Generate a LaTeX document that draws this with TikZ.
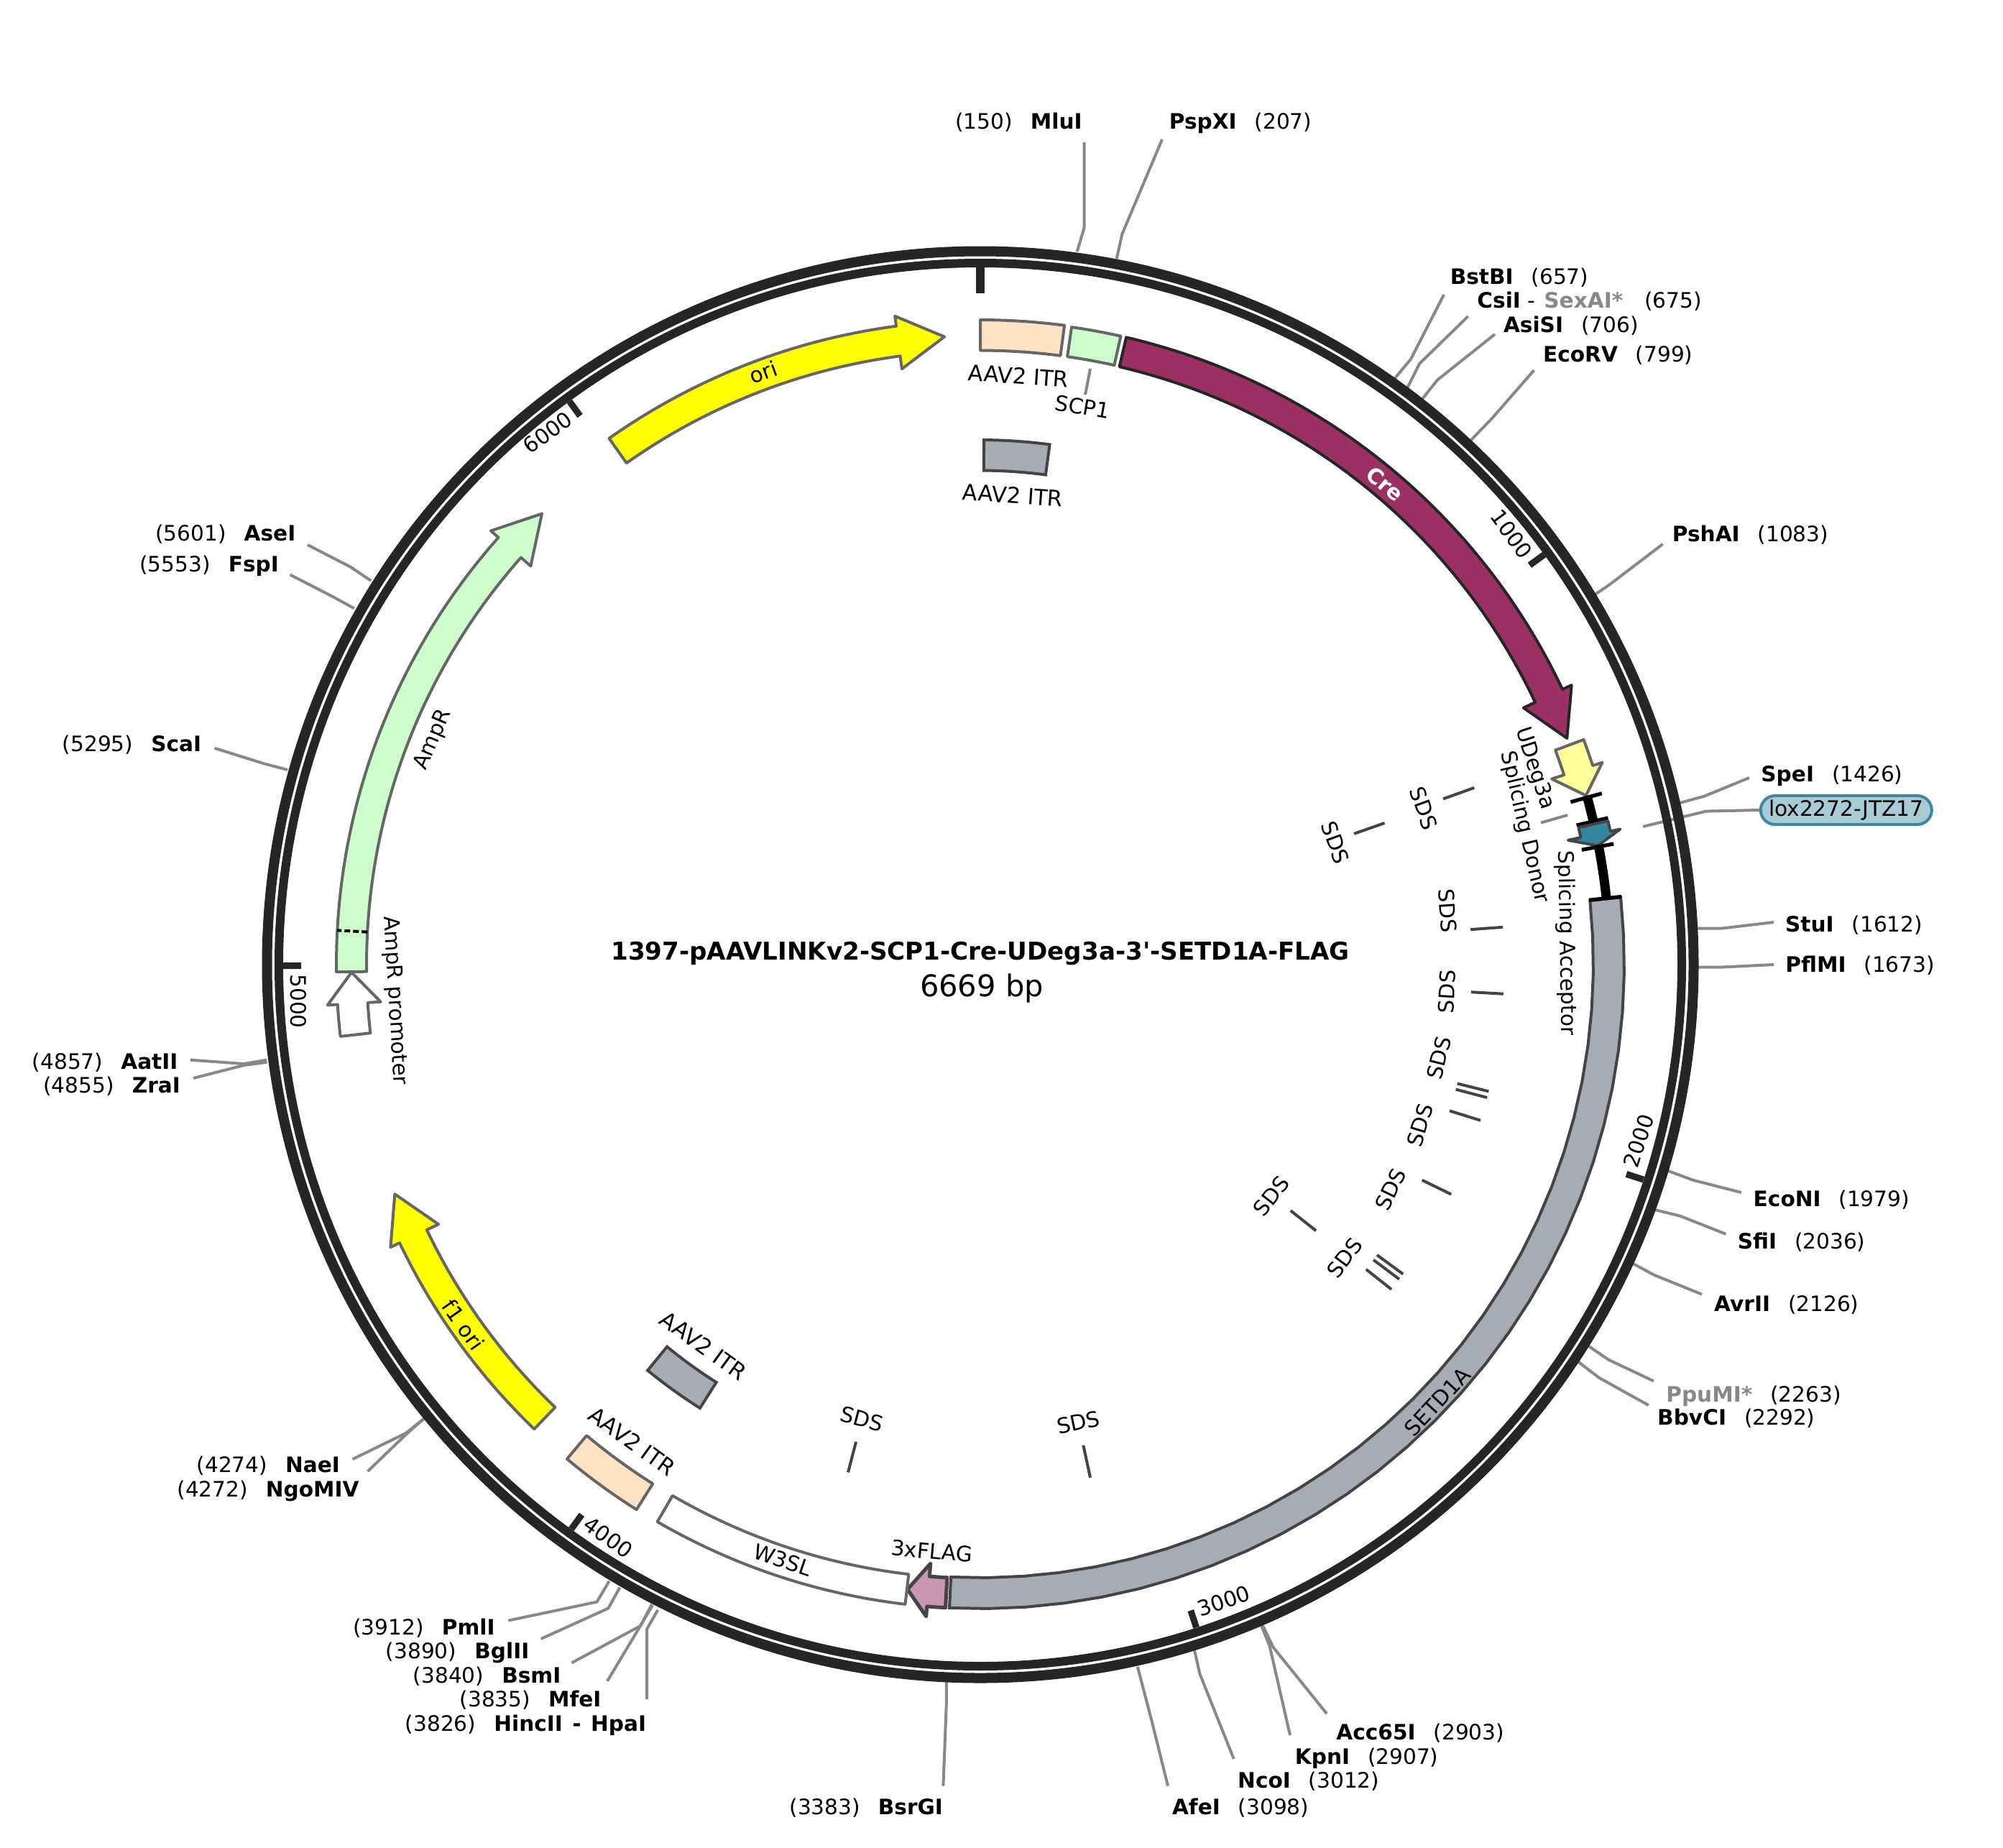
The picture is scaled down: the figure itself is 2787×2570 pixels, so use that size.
\documentclass[tikz,border=0pt]{standalone}
\usepackage{fontspec}
\setmainfont{DejaVu Sans}
\definecolor{ringc}{HTML}{262626}
\definecolor{enzc}{HTML}{888888}
\definecolor{edgec}{HTML}{666666}
\definecolor{sdsc}{HTML}{444444}
\definecolor{greyf}{HTML}{A5ACB5}
\definecolor{peachf}{HTML}{FFE3C4}
\definecolor{greenf}{HTML}{CCFFCC}
\definecolor{cref}{HTML}{9B3065}
\definecolor{udegf}{HTML}{FFFF99}
\definecolor{yellf}{HTML}{FFFF00}
\definecolor{bluef}{HTML}{33869E}
\definecolor{pinkf}{HTML}{C996B4}
\definecolor{boxf}{HTML}{A8CCD6}
\definecolor{boxe}{HTML}{3D87A3}
\tikzset{
  ringout/.style={draw=ringc,line width=7pt},
  ringin/.style={draw=ringc,line width=6pt},
  ticks/.style={draw=ringc,line width=4.5pt},
  tickz/.style={draw=ringc,line width=6pt},
  enz/.style={draw=enzc,line width=2pt},
  sds/.style={draw=sdsc,line width=2pt},
  lab/.style={inner sep=0pt,font=\fontsize{14.8}{17}\selectfont},
  feat/.style={draw=edgec,line width=2pt,line join=round},
  blackbar/.style={draw=black,line width=6.5pt},
  blackcap/.style={draw=black,line width=2.6pt},
}
% feature box: style, start, end (degrees clockwise from top), radii
\newcommand{\boxfeat}[5]{\path[#1] plot[domain=#2:#3,samples=30] (\x-90:#5) -- plot[domain=#3:#2,samples=30] (\x-90:#4) -- cycle;}
% clockwise arrow: style, start, head, tip
\newcommand{\arrowfeat}[4]{\path[#1] plot[domain=#2:#3,samples=60] (\x-90:896) -- (#3-90:910) -- (#4-90:875) -- (#3-90:836) -- plot[domain=#3:#2,samples=60] (\x-90:854) -- cycle;}
\newcommand{\radial}[4]{\draw[#1] (#2-90:#3) -- (#2-90:#4);}
\newcommand{\leader}[4]{\coordinate (#1-a) at (#2); \coordinate (#1-b) at (#3); \coordinate (#1-c) at (#4); \draw[enz] (#1-a) -- (#1-b) -- (#1-c);}
\newcommand{\siteE}[7]{\node[lab,anchor=base west] (#1) at (#2) {\textbf{#3}\hspace{12.5pt}(#4)}; \leader{#1}{#5}{#6}{#7}}
\newcommand{\siteW}[7]{\node[lab,anchor=base east] (#1) at (#2) {(#4)\hspace{12.5pt}\textbf{#3}}; \leader{#1}{#5}{#6}{#7}}
\newcommand{\flab}[5]{\node[lab,rotate=#3] (#1) at (#2) {#4#5};}
\newcommand{\itrfont}{\fontsize{15.3}{17}\selectfont}
\begin{document}
\begin{tikzpicture}[x=0.5pt,y=-0.5pt]
\useasboundingbox (0,0) rectangle (2787,2570);
% restriction sites: text baseline is y+10
\siteW{MluI}{1506,179}{MluI}{150}{1508.6,198}{1508.6,316.5}{1498.7,350}
\siteE{PspXI}{1626.4,179}{PspXI}{207}{1617,194}{1561.4,325.4}{1553.7,360}
\siteE{BstBI}{2017.4,395.7}{BstBI}{657}{2009,410}{1963,499.6}{1941,526}
\siteE{CsiI}{2055,428}{CsiI\textmd{ - }\hspace{1.5pt}\textcolor{enzc}{SexAI*}\hspace{2.5pt}}{675}{2042.7,440}{1975,506}{1958,540}
\siteE{AsiSI}{2091.6,462.7}{AsiSI}{706}{2080,465}{2000,528.6}{1979,555}
\siteE{EcoRV}{2146.7,503.8}{EcoRV}{799}{2134.5,515}{2076,582}{2046,613}
\siteE{PshAI}{2326.5,753}{PshAI}{1083}{2313.5,757}{2240,813}{2215,830}
\siteE{SpeI}{2450,1087.7}{SpeI}{1426}{2434,1082}{2371.5,1107.6}{2336,1117.4}
\siteE{StuI}{2483.7,1296}{StuI}{1612}{2468,1283}{2396,1291.5}{2356,1291.5}
\siteE{PflMI}{2484,1352.9}{PflMI}{1673}{2468,1342}{2396,1345.5}{2356,1345.5}
\siteE{EcoNI}{2439.3,1678.6}{EcoNI}{1979}{2422.8,1659}{2355.8,1641.8}{2320,1628.6}
\siteE{SfiI}{2417.4,1737.5}{SfiI}{2036}{2401.3,1716.8}{2338,1691.8}{2302,1682.9}
\siteE{AvrII}{2384.8,1824.3}{AvrII}{2126}{2368,1800.7}{2302,1774}{2272,1757.9}
\siteE{PpuMI}{2317.9,1950}{\textcolor{enzc}{PpuMI*}}{2263}{2301,1921.4}{2238.4,1891.8}{2210.7,1873}
\siteE{BbvCI}{2305.8,1982}{BbvCI}{2292}{2293.8,1955}{2225,1916.8}{2196,1894.6}
\siteE{Acc65I}{1859,2420}{Acc65I}{2903}{1846,2384}{1771.6,2291.8}{1757,2261.5}
\siteE{KpnI}{1801.5,2454}{KpnI}{2907}{1795,2414}{1766.5,2289.7}{1755,2261.5}
\siteE{NcoI}{1721.8,2487.5}{NcoI}{3012}{1716.7,2447}{1669.5,2329}{1662,2296}
\siteE{AfeI}{1630.6,2524.4}{AfeI}{3098}{1625,2484.6}{1604,2400}{1582.8,2318.7}
\siteW{BsrGI}{1312.4,2524.4}{BsrGI}{3383}{1312.4,2484.6}{1316.8,2370.6}{1316.8,2339.5}
\siteW{PmlI}{688.9,2274.3}{PmlI}{3912}{707.4,2254.5}{830.5,2228.6}{847.7,2199.6}
\siteW{BglII}{736.7,2307.8}{BglII}{3890}{752.7,2280}{846.4,2237.5}{862.4,2208.5}
\siteW{BsmI}{780.7,2341.3}{BsmI}{3840}{795.4,2313.4}{891,2262}{907,2232}
\siteW{MfeI}{836.9,2374.7}{MfeI}{3835}{845,2338.8}{891,2262}{908,2233}
\siteW{HincII}{899.4,2408}{HincII\hspace{2pt}\textmd{ }-\textmd{ }\hspace{2pt}HpaI}{3826}{900,2364}{900,2266.5}{915.3,2239.7}
\siteW{NaeI}{473.3,2048.8}{NaeI}{4274}{490.6,2030}{564.5,1994}{589.4,1974}
\siteW{NgoMIV}{500,2082.3}{NgoMIV}{4272}{511.6,2047}{564.5,1996}{589.4,1974}
\siteW{AatII}{247.8,1487.7}{AatII}{4857}{264.7,1474.6}{339.3,1480}{371.4,1474.6}
\siteW{ZraI}{251.3,1520}{ZraI}{4855}{269,1500}{339.3,1482}{371.4,1477.7}
\siteW{ScaI}{280.6,1045.2}{ScaI}{5295}{298.5,1040.8}{366.8,1062.2}{400,1071}
\siteW{FspI}{388.3,795.2}{FspI}{5553}{403.6,799.5}{460.2,828.6}{492.9,846.4}
\siteW{AseI}{411.7,752.9}{AseI}{5601}{428,758}{487.8,788.8}{516.3,808}
% lox2272 label and its broken connector
\node[lab,draw=boxe,fill=boxf,line width=2pt,rounded corners=10pt,minimum width=119pt,minimum height=20pt] (lox) at (2568.8,1127) {lox2272-JTZ17};
\coordinate (loxk) at (2374,1128.6);
\coordinate (loxr) at (2286,1150);
\coordinate (loxi) at (2181,1134);
\coordinate (loxj) at (2144,1144.6);
\draw[enz] (lox.west) -- (loxk) -- (loxr);
\draw[enz] (loxi) -- (loxj);
\begin{scope}[shift={(1364,1342)}]
  % backbone
  \draw[ringout] (0,0) circle[radius=992.5];
  \draw[ringin] (0,0) circle[radius=976];
  \radial{tickz}{0}{970}{934}
  \radial{ticks}{53.98}{970}{945}
  \radial{ticks}{107.96}{970}{945}
  \radial{ticks}{161.95}{970}{945}
  \radial{ticks}{215.93}{970}{945}
  \radial{ticks}{269.91}{970}{945}
  \radial{ticks}{323.89}{970}{945}
  % features, outer track
  \boxfeat{feat,fill=peachf}{0}{7.5}{854.5}{897}
  \boxfeat{feat,fill=greenf}{8.15}{12.6}{854.5}{896}
  \arrowfeat{draw=ringc,line width=2pt,line join=round,fill=cref}{13.1}{64.7}{68.9}
  \arrowfeat{feat,fill=udegf}{69.55}{72}{74.4}
  % splicing donor
  \path[blackbar] plot[domain=74.6:76.85,samples=5] (\x-90:876);
  \radial{blackcap}{74.6}{852}{897}
  \radial{blackcap}{76.85}{852}{897}
  \arrowfeat{draw=sdsc,line width=2pt,line join=round,fill=bluef}{77.1}{78.05}{79.1}
  % splicing acceptor
  \path[blackbar] plot[domain=79.15:83.95,samples=8] (\x-90:876);
  \radial{blackcap}{79.2}{852}{897}
  \boxfeat{draw=sdsc,line width=2pt,fill=greyf}{84}{182.75}{853}{896}
  \radial{blackcap}{83.95}{852}{897}
  \arrowfeat{draw=sdsc,line width=2.5pt,line join=round,fill=pinkf}{183.1}{184.75}{186.65}
  \boxfeat{feat,fill=white}{186.7}{210.1}{854}{896}
  \boxfeat{feat,fill=peachf}{212.25}{219.9}{854}{896.5}
  \arrowfeat{feat,fill=yellf}{223.85}{244.4}{248.6}
  \arrowfeat{feat,fill=white}{263.6}{266.45}{269.3}
  \arrowfeat{feat,fill=greenf}{269.35}{311.55}{315.8}
  \draw[draw=black,line width=2pt,dash pattern=on 4pt off 2pt] (273.05-90:854) -- (273.05-90:896);
  \arrowfeat{feat,fill=yellf}{324.8}{352.5}{356.73}
  % inner features
  \boxfeat{draw=sdsc,line width=2pt,fill=greyf}{0.4}{7.6}{687.5}{730}
  \boxfeat{draw=sdsc,line width=2pt,fill=greyf}{212.3}{219.35}{687.5}{730}
  % SDS marks
  \radial{sds}{70.3}{684}{730}
  \radial{sds}{70.7}{551}{596}
  \radial{sds}{85.9}{684}{729}
  \radial{sds}{93.2}{684}{729}
  \radial{sds}{104}{684}{729}
  \radial{sds}{104.7}{684}{729}
  \radial{sds}{107.3}{684}{729}
  \radial{sds}{116}{684}{729}
  \radial{sds}{126.2}{684}{729}
  \radial{sds}{126.9}{684}{729}
  \radial{sds}{128.3}{684}{729}
  \radial{sds}{128.4}{551}{596}
  \radial{sds}{167.9}{684}{730}
  \radial{sds}{194.6}{686}{730}
\end{scope}
% SCP1 leader
\coordinate (scpa) at (1517,513);
\coordinate (scpb) at (1510,549);
\draw[enz] (scpa) -- (scpb);
% title
\node[lab,font=\fontsize{17.05}{20}\selectfont\bfseries] (title) at (1364,1327) {1397-pAAVLINKv2-SCP1-Cre-UDeg3a-3\textquotesingle-SETD1A-FLAG};
\node[lab,font=\fontsize{20.8}{24}\selectfont] (size) at (1366,1375) {6669 bp};
% tick numbers
\flab{t1}{2103,743}{-54}{}{1000}
\flab{t2}{2280,1587.5}{72}{}{2000}
\flab{t3}{1702.7,2227.5}{18}{}{3000}
\flab{t4}{846.4,2139}{-36}{}{4000}
\flab{t5}{415,1393}{-90}{}{5000}
\flab{t6}{762,601.5}{36}{}{6000}
% feature labels
\flab{lori}{1062,518}{20}{}{ori}
\flab{lcre}{1927,673}{-40}{\color{white}\bfseries}{Cre}
\flab{lit1}{1417,523}{-4}{\itrfont}{AAV2 ITR}
\flab{lscp}{1506,566}{-10}{}{SCP1}
\flab{lit2}{1409,689}{-4}{\itrfont}{AAV2 ITR}
\flab{lset}{2000,1950}{47}{}{SETD1A}
\flab{lw3}{1089,2170.5}{-18.4}{}{W3SL}
\flab{lfl}{1296.4,2158}{-5}{}{3xFLAG}
\flab{lit3}{879.6,2005}{-36}{\itrfont}{AAV2 ITR}
\flab{lit4}{979,1872}{-36}{\itrfont}{AAV2 ITR}
\flab{lf1}{645,1843}{-55}{}{f1 ori}
\flab{lamp}{603,1029}{67}{}{AmpR}
\flab{lpro}{549,1392}{-86.5}{}{AmpR promoter}
\flab{ludg}{2135,1069}{-72}{}{UDeg3a}
\flab{lsd}{2121,1151}{-77}{}{Splicing Donor}
\flab{lsa}{2179,1312}{-89}{}{Splicing Acceptor}
% SDS labels
\flab{s1}{1981,1124.6}{-70}{}{SDS}
\flab{s2}{1858,1172}{-70}{}{SDS}
\flab{s3}{2014,1267}{-86}{}{SDS}
\flab{s4}{2013,1379.5}{87}{}{SDS}
\flab{s5}{2002,1472}{76}{}{SDS}
\flab{s6}{1975.5,1565}{73}{}{SDS}
\flab{s7}{1935,1654.5}{64}{}{SDS}
\flab{s8}{1871,1750}{53}{}{SDS}
\flab{s9}{1769,1664}{52}{}{SDS}
\flab{s10}{1500.5,1979}{12}{}{SDS}
\flab{s11}{1199,1974}{-15}{}{SDS}
\end{tikzpicture}
\end{document}
